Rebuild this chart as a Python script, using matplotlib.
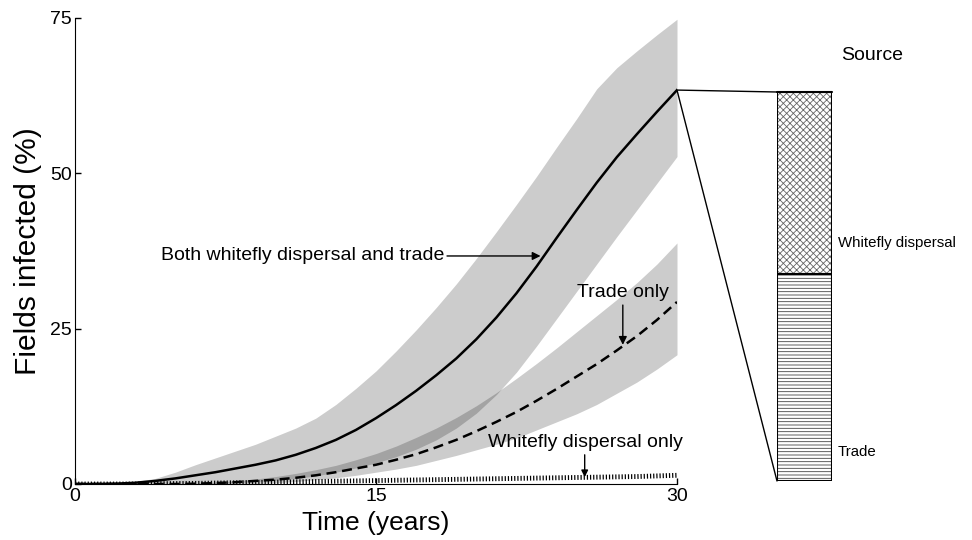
import matplotlib
matplotlib.use("Agg")
import matplotlib.pyplot as plt
from matplotlib.patches import ConnectionPatch

plt.rcParams['font.family'] = ['Liberation Sans', 'DejaVu Sans']
plt.rcParams['hatch.linewidth'] = 0.6

# ---------------- data ----------------
years = list(range(0, 31))

both_mean = [0, 0, 0.05, 0.2, 0.5, 0.9, 1.4, 1.9, 2.5, 3.1, 3.8, 4.7, 5.8, 7.1, 8.7, 10.6,
             12.7, 15.0, 17.5, 20.2, 23.3, 26.8, 30.7, 35.0, 39.6, 44.1, 48.5, 52.6, 56.3, 59.9, 63.4]
both_upper = [0, 0, 0.1, 0.4, 0.9, 1.9, 3.1, 4.2, 5.3, 6.4, 7.7, 9.0, 10.6, 12.8, 15.4, 18.2,
              21.4, 24.8, 28.4, 32.2, 36.3, 40.6, 45.0, 49.5, 54.2, 58.8, 63.6, 67.0, 69.7, 72.3, 74.8]
both_lower = [0, 0, 0, 0, 0, 0, 0.05, 0.1, 0.2, 0.4, 0.6, 0.9, 1.3, 1.9, 2.6, 3.4,
              4.4, 5.6, 7.1, 9.0, 11.4, 14.4, 18.0, 22.2, 26.6, 31.0, 35.4, 39.8, 44.1, 48.4, 52.7]

trade_mean = [0, 0, 0, 0, 0, 0, 0.05, 0.15, 0.3, 0.5, 0.7, 1.0, 1.4, 1.9, 2.5, 3.1,
              3.9, 4.8, 5.9, 7.1, 8.5, 10.0, 11.6, 13.4, 15.3, 17.3, 19.3, 21.5, 23.8, 26.4, 29.3]
trade_upper = [0, 0, 0, 0, 0, 0, 0.1, 0.3, 0.5, 0.8, 1.2, 1.7, 2.3, 3.0, 3.9, 4.9,
               6.1, 7.5, 9.0, 10.7, 12.6, 14.7, 17.0, 19.4, 21.9, 24.5, 27.1, 29.7, 32.4, 35.4, 38.8]
trade_lower = [0, 0, 0, 0, 0, 0, 0, 0, 0, 0.1, 0.2, 0.4, 0.7, 1.0, 1.4, 1.9,
               2.4, 3.0, 3.8, 4.6, 5.5, 6.4, 7.4, 8.7, 10.0, 11.3, 12.8, 14.6, 16.4, 18.5, 20.8]

whitefly_mean = [0, 0, 0, 0, 0.05, 0.07, 0.1, 0.15, 0.2, 0.25, 0.3, 0.35, 0.4, 0.45, 0.5, 0.55,
                 0.6, 0.65, 0.7, 0.75, 0.8, 0.85, 0.9, 0.95, 1.0, 1.05, 1.1, 1.15, 1.2, 1.3, 1.4]

source_labels = ["Trade", "Whitefly dispersal"]
source_share = [53.2, 46.8]   # % of infections at year 30

x_ticks = [0, 15, 30]
y_ticks = [0, 25, 50, 75]

# ---------------- figure ----------------
fig = plt.figure(figsize=(9.72, 5.4), dpi=100)
W, H = 972, 540
ax = fig.add_axes([75 / W, 1 - 484 / H, 602 / W, 466 / H])

ax.fill_between(years, both_lower, both_upper, color='k', alpha=0.2, linewidth=0)
ax.fill_between(years, trade_lower, trade_upper, color='k', alpha=0.2, linewidth=0)

ax.plot(years, both_mean, color='k', lw=1.8)
ax.plot(years, trade_mean, color='k', lw=1.8, linestyle=(0, (4, 2.3)), dash_capstyle='butt')
ax.plot(years, whitefly_mean, color='k', lw=3.5, linestyle=(0, (0.25, 0.4)), dash_capstyle='butt')

ax.set_xlim(0, 30)
ax.set_ylim(0, 75)
ax.set_xticks(x_ticks)
ax.set_yticks(y_ticks)
ax.tick_params(direction='in', length=4, labelsize=14, width=1)
ax.tick_params(axis='x', pad=3)
ax.tick_params(axis='y', pad=2)
for s in ['top', 'right']:
    ax.spines[s].set_visible(False)
ax.set_xlabel('Time (years)', fontsize=19, labelpad=4)
ax.set_ylabel('Fields infected (%)', fontsize=21.5, labelpad=6)

# annotations
ax.annotate('Both whitefly dispersal and trade', xy=(23.2, 36.7), xytext=(18.4, 36.7),
            fontsize=14, ha='right', va='center',
            arrowprops=dict(arrowstyle='-|>', color='k', lw=1, mutation_scale=12, shrinkA=0, shrinkB=0))
ax.text(27.3, 30.9, 'Trade only', fontsize=14, ha='center', va='center')
ax.annotate('', xy=(27.3, 22.4), xytext=(27.3, 28.8),
            arrowprops=dict(arrowstyle='-|>', color='k', lw=1, mutation_scale=12, shrinkA=0, shrinkB=0))
ax.text(25.45, 6.6, 'Whitefly dispersal only', fontsize=14, ha='center', va='center')
ax.annotate('', xy=(25.4, 1.1), xytext=(25.4, 4.7),
            arrowprops=dict(arrowstyle='-|>', color='k', lw=1, mutation_scale=10, shrinkA=0, shrinkB=0))

# ---------------- source bar ----------------
bax = fig.add_axes([777 / W, 1 - 481 / H, 55 / W, 389 / H])
total = both_mean[-1]
trade_h = total * source_share[0] / 100
wf_h = total * source_share[1] / 100
bax.bar([0], [trade_h], width=1, color='white', edgecolor='#444444', hatch='-----', linewidth=0)
bax.bar([0], [wf_h], bottom=[trade_h], width=1, color='white', edgecolor='#666666', hatch='xxxxx', linewidth=0)
bax.bar([0], [trade_h], width=1, fill=False, edgecolor='k', linewidth=1.5)
bax.bar([0], [wf_h], bottom=[trade_h], width=1, fill=False, edgecolor='k', linewidth=1.5)
bax.set_xlim(-0.5, 0.5)
bax.set_ylim(0, total)
bax.axis('off')

fig.text(872 / W, 1 - 56 / H, 'Source', fontsize=14, ha='center', va='center')
fig.text(838 / W, 1 - 243 / H, source_labels[1], fontsize=10.8, ha='left', va='center')
fig.text(838 / W, 1 - 452 / H, source_labels[0], fontsize=10.8, ha='left', va='center')

for yb in [total, 0]:
    con = ConnectionPatch(xyA=(30, total), coordsA=ax.transData,
                          xyB=(-0.5, yb), coordsB=bax.transData, color='k', lw=1)
    fig.add_artist(con)
con = ConnectionPatch(xyA=(-0.5, total), coordsA=bax.transData,
                      xyB=(0.5, total), coordsB=bax.transData, color='k', lw=1.5)
fig.add_artist(con)

fig.savefig('out.png', dpi=100)
